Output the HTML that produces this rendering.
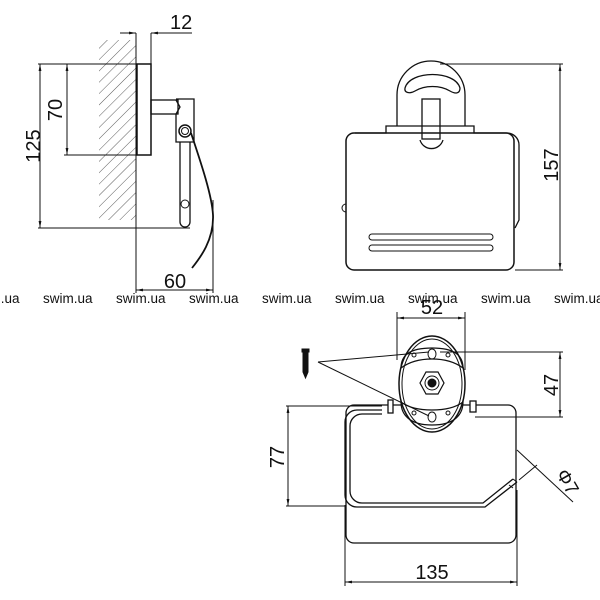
<!DOCTYPE html>
<html><head><meta charset="utf-8"><style>
html,body{margin:0;padding:0;background:#fff}
svg{display:block}
text{font-family:"Liberation Sans",sans-serif;fill:#111}
</style></head><body>
<svg width="600" height="600" viewBox="0 0 600 600" xmlns="http://www.w3.org/2000/svg">
<defs>
<pattern id="h" width="8" height="8" patternUnits="userSpaceOnUse" patternTransform="rotate(45)">
<line x1="0" y1="0" x2="0" y2="8" stroke="#333" stroke-width="0.8"/>
</pattern>
<marker id="a" viewBox="0 0 10 10" refX="10" refY="5" markerWidth="7" markerHeight="7" orient="auto-start-reverse"><path d="M0,3 L10,5 L0,7z" fill="#111"/></marker>
</defs>
<g stroke="#111" fill="none" stroke-width="1">
<rect x="99" y="40" width="37" height="180" fill="url(#h)" stroke="none"/>
<line x1="136" y1="33" x2="136" y2="293"/>
<line x1="151" y1="33" x2="151" y2="64"/>
<line x1="120" y1="33" x2="136" y2="33" marker-end="url(#a)"/>
<line x1="192" y1="33" x2="151" y2="33" marker-end="url(#a)"/>
<rect x="137" y="64" width="14" height="91" stroke-width="1.5"/>
<line x1="38" y1="64" x2="137" y2="64"/>
<line x1="64" y1="155" x2="137" y2="155"/>
<line x1="38" y1="228" x2="190" y2="228"/>
<line x1="40" y1="64" x2="40" y2="228" marker-start="url(#a)" marker-end="url(#a)"/>
<line x1="67" y1="64" x2="67" y2="155" marker-start="url(#a)" marker-end="url(#a)"/>
<rect x="151" y="100" width="27" height="14" stroke-width="1.3"/>
<path d="M176,99 H194 V142 H176 V114 L180,107 L176,100" stroke-width="1.3"/>
<circle cx="185" cy="131" r="6" stroke-width="1.5"/>
<circle cx="185" cy="131" r="3.5"/>
<path d="M180,142 V222 A5,5 0 0 0 190,222 V142" stroke-width="1.3"/>
<circle cx="185" cy="204" r="4"/>
<path d="M191,133 C200,160 212,195 213,215 C214,240 200,258 192,268" stroke-width="1.8"/>
<line x1="213" y1="200" x2="213" y2="293"/>
<line x1="136" y1="290" x2="213" y2="290" marker-start="url(#a)" marker-end="url(#a)"/>

<path d="M397,126 V95 A33,33 0 0 1 465,95 V126" stroke-width="1.3"/>
<path d="M405,88 C410,70 455,70 460,88 C460,94 455,94 450,91 C440,85 425,85 415,91 C410,94 404,93 405,88Z" stroke-width="1.3"/>
<rect x="422" y="99" width="18" height="40" stroke-width="1.3"/>
<path d="M420,140 A12,12 0 0 0 443,140" stroke-width="1.3"/>
<path d="M355,133 H386 V126 H474 V133 H507 A12,12 0 0 1 519,145 V220 L515,228" stroke-width="1.3"/>
<rect x="346" y="133" width="168" height="137" rx="8" stroke-width="1.5"/>
<rect x="369" y="234" width="124" height="6" rx="3"/>
<rect x="369" y="245" width="124" height="6" rx="3"/>
<path d="M346,204 a3,3 0 0 0 0,8"/>
<line x1="440" y1="64" x2="563" y2="64"/>
<line x1="515" y1="270" x2="563" y2="270"/>
<line x1="560" y1="64" x2="560" y2="270" marker-start="url(#a)" marker-end="url(#a)"/>

<line x1="397" y1="312" x2="397" y2="360"/>
<line x1="465" y1="312" x2="465" y2="370"/>
<line x1="397" y1="318" x2="465" y2="318" marker-start="url(#a)" marker-end="url(#a)"/>
<rect x="346" y="405" width="170" height="138" rx="8" stroke-width="1.3"/>
<path d="M382,410 H357 A12,12 0 0 0 345,422 V495 A12,12 0 0 0 357,507 H485 L517,482" stroke-width="1.3"/>
<path d="M382,414 H362 A12,12 0 0 0 350,426 V491 A12,12 0 0 0 362,503 H483 L513,479" stroke-width="1.3"/>
<path d="M513,479 L517,482 M509,485 L513,488" />
<rect x="388" y="400" width="5" height="13" fill="#fff" stroke-width="1.3"/>
<rect x="470" y="401" width="6" height="11" fill="#fff" stroke-width="1.3"/>
<ellipse cx="432" cy="384" rx="33" ry="48" fill="#fff" stroke-width="1.5"/>
<ellipse cx="432" cy="384" rx="30" ry="45"/>
<path d="M401,368 C401,355 410,348 432,348 C454,348 463,355 463,368 C455,362 445,359 432,359 C419,359 409,362 401,368Z" stroke-width="1.2"/>
<path d="M401,402 C401,415 410,425 432,425 C454,425 463,415 463,402 C455,408 445,410 432,410 C419,410 409,408 401,402Z" stroke-width="1.2"/>
<ellipse cx="432" cy="354" rx="4" ry="5"/>
<ellipse cx="432" cy="417" rx="4" ry="5"/>
<circle cx="414" cy="355" r="2"/><circle cx="448" cy="355" r="2"/>
<circle cx="414" cy="413" r="2"/><circle cx="448" cy="413" r="2"/>
<polygon points="420,383 426,372 438,372 444,383 438,394 426,394" stroke-width="1.2"/>
<circle cx="432" cy="383" r="7"/>
<circle cx="432" cy="383" r="4" fill="#111"/>
<line x1="318" y1="362" x2="429" y2="352"/>
<line x1="318" y1="362" x2="429" y2="416"/>
<rect x="302" y="349" width="7" height="3" fill="#111"/>
<path d="M303,352 H308 V372 L305.5,378 L303,372Z" fill="#111"/>
<line x1="440" y1="352" x2="563" y2="352"/>
<line x1="475" y1="417" x2="563" y2="417"/>
<line x1="560" y1="352" x2="560" y2="417" marker-start="url(#a)" marker-end="url(#a)"/>
<line x1="286" y1="406" x2="382" y2="406"/>
<line x1="286" y1="506" x2="345" y2="506"/>
<line x1="288" y1="406" x2="288" y2="506" marker-start="url(#a)" marker-end="url(#a)"/>
<line x1="345" y1="505" x2="345" y2="586"/>
<line x1="517" y1="490" x2="517" y2="586"/>
<line x1="345" y1="582" x2="517" y2="582" marker-start="url(#a)" marker-end="url(#a)"/>
<line x1="517" y1="450" x2="573" y2="502"/>
<line x1="519" y1="480" x2="537" y2="465"/>
</g>
<text x="170" y="29" font-size="20">12</text>
<text transform="translate(40,146) rotate(-90)" text-anchor="middle" font-size="20">125</text>
<text transform="translate(62,110) rotate(-90)" text-anchor="middle" font-size="20">70</text>
<text x="175" y="288" text-anchor="middle" font-size="20">60</text>
<text transform="translate(558,165) rotate(-90)" text-anchor="middle" font-size="20">157</text>
<text x="432" y="314" text-anchor="middle" font-size="20">52</text>
<text transform="translate(558,385) rotate(-90)" text-anchor="middle" font-size="20">47</text>
<text transform="translate(284,457) rotate(-90)" text-anchor="middle" font-size="20">77</text>
<text x="432" y="579" text-anchor="middle" font-size="20">135</text>
<text transform="translate(562,485) rotate(60)" text-anchor="middle" font-size="19">Φ7</text>
<g font-size="13.5" style="fill:#666">
<text x="-30" y="303">swim.ua</text>
<text x="43" y="303">swim.ua</text>
<text x="116" y="303">swim.ua</text>
<text x="189" y="303">swim.ua</text>
<text x="262" y="303">swim.ua</text>
<text x="335" y="303">swim.ua</text>
<text x="408" y="303">swim.ua</text>
<text x="481" y="303">swim.ua</text>
<text x="554" y="303">swim.ua</text>
</g>
</svg>
</body></html>
